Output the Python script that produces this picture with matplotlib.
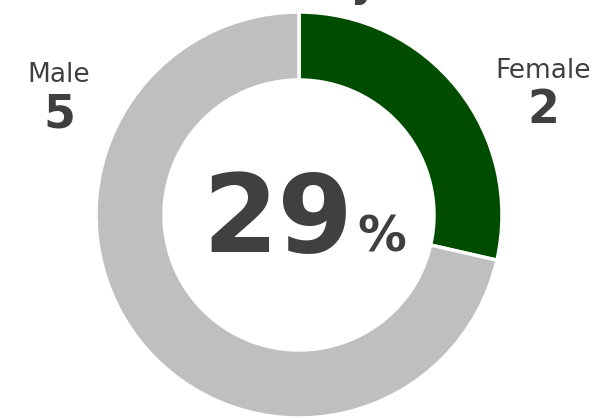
import matplotlib.pyplot as plt

labels = ["Female", "Male"]
counts = [2, 5]
colors = ["#004d00", "#bfbfbf"]
title = "Gender Diversity"

share = round(100 * counts[0] / sum(counts))

fig = plt.figure(figsize=(6.16, 4.18), dpi=100)
ax = fig.add_axes([0, 0, 1, 1])

# donut, female slice starting at 12 o'clock going clockwise
# (y axis is flipped below, so angles run the other way round)
ax.pie(counts, colors=colors, startangle=-90, counterclock=True,
       center=(299, 215), radius=203, frame=True,
       wedgeprops=dict(width=68, edgecolor="white", linewidth=2.5))
ax.set_xlim(0, 616)
ax.set_ylim(418, 0)
ax.set_aspect("equal")
ax.axis("off")

txt = "#404040"
ax.text(378, -4, title, ha="right", va="baseline", fontsize=30,
        fontweight="bold", color=txt)

# category labels
ax.text(59, 82, labels[1], ha="center", va="baseline", fontsize=19, color=txt)
ax.text(59, 127, str(counts[1]), ha="center", va="baseline", fontsize=33,
        fontweight="bold", color=txt)
ax.text(543, 78, labels[0], ha="center", va="baseline", fontsize=19, color=txt)
ax.text(543, 123, str(counts[0]), ha="center", va="baseline", fontsize=33,
        fontweight="bold", color=txt)

# centre percentage
ax.text(353, 252, str(share), ha="right", va="baseline", fontsize=78,
        fontweight="bold", color=txt)
ax.text(357, 252, "%", ha="left", va="baseline", fontsize=35,
        fontweight="bold", color=txt)

fig.savefig("out.png", dpi=100)
